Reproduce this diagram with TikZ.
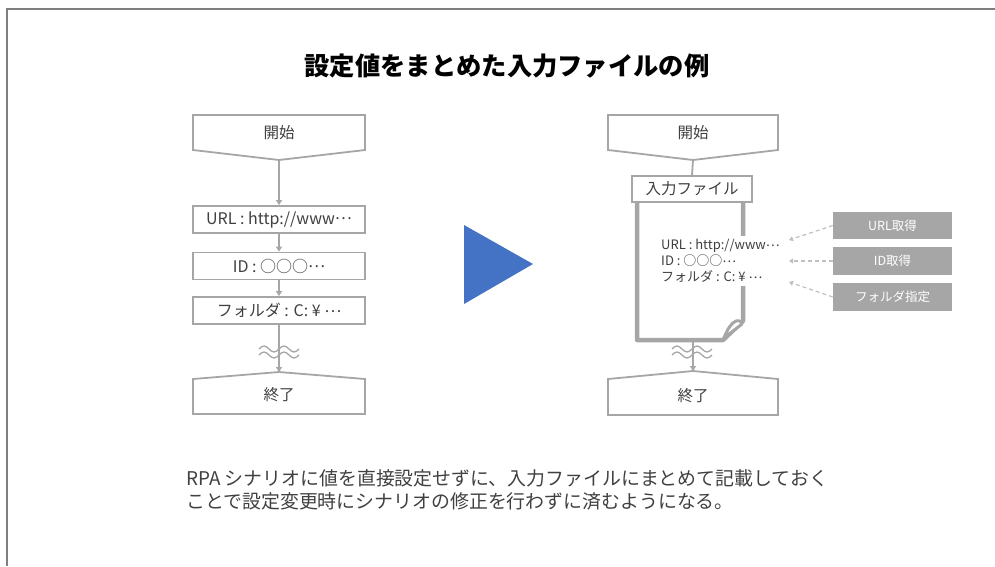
\documentclass[tikz,border=0pt]{standalone}
\usepackage{fontspec}
\setmainfont{Noto Sans CJK JP}
\usetikzlibrary{arrows.meta}
\definecolor{boxgray}{HTML}{A6A6A6}
\definecolor{txtgray}{HTML}{404040}
\definecolor{dashgray}{HTML}{C0C0C0}
\definecolor{triblue}{HTML}{4472C4}
\definecolor{framegray}{HTML}{7F7F7F}
\newcommand{\mdts}{\raisebox{0.28em}{…}}
\tikzset{
  flowbox/.style={draw=boxgray, line width=1.8pt, fill=white, minimum width=172pt, minimum height=27pt, inner sep=0pt, text=txtgray, font=\fontsize{16}{18}\selectfont},
  shapeline/.style={draw=boxgray, line width=1.8pt, fill=white},
  shapetext/.style={text=txtgray, font=\fontsize{15.5}{18}\selectfont, inner sep=0pt},
  conn/.style={draw=boxgray, line width=1.8pt, -{Triangle[width=6pt,length=5pt]}},
  plainconn/.style={draw=boxgray, line width=1.8pt},
  graybox/.style={fill=boxgray, minimum width=119pt, minimum height=27pt, inner sep=0pt, text=white, font=\fontsize{12.5}{15}\selectfont},
  dasharrow/.style={draw=dashgray, line width=1.2pt, dash pattern=on 4pt off 3pt, -{Triangle[width=5pt,length=4pt]}},
  wavy/.style={draw=boxgray, line width=1.3pt},
  docline/.style={draw=boxgray, line width=4.5pt, line join=round},
}
\begin{document}
\begin{tikzpicture}[x=1pt,y=-1pt]
\useasboundingbox (0,0) rectangle (995,566);
% frame
\draw[framegray, line width=2pt] (995,9) -- (7,9) -- (7,566);
% title
\node[font=\fontsize{25.3}{30}\selectfont\bfseries] (title) at (507,66) {設定値をまとめた入力ファイルの例};

% ---------- left flow ----------
\draw[shapeline] (193,115) -- (365,115) -- (365,150) -- (279,160) -- (193,150) -- cycle;
\node[shapetext] (s1) at (279,133) {開始};
\coordinate (s1b) at (279,160);
\node[flowbox] (url) at (279,219.5) {URL : http://www\mdts};
\node[flowbox] (id) at (279,266) {ID : ○○○\mdts};
\node[flowbox] (fold) at (279,310.5) {フォルダ : C: ¥ \mdts};
\draw[conn] (s1b) -- (url.north);
\draw[conn] (url.south) -- (id.north);
\draw[conn] (id.south) -- (fold.north);
\coordinate (e1t) at (279,372);
\draw[conn] (fold.south) -- (e1t);
\draw[wavy] (259,349) sin (264,346) cos (269,349) sin (274,352) cos (279,349) sin (284,346) cos (289,349) sin (294,352) cos (299,349);
\draw[wavy] (259,355) sin (264,352) cos (269,355) sin (274,358) cos (279,355) sin (284,352) cos (289,355) sin (294,358) cos (299,355);
\draw[shapeline] (193,379) -- (279,372) -- (365,379) -- (365,414) -- (193,414) -- cycle;
\node[shapetext] (e1) at (279,395) {終了};

% ---------- triangle ----------
\fill[triblue] (464,225) -- (533,264) -- (464,304) -- cycle;

% ---------- right flow ----------
\draw[shapeline] (608,115) -- (778,115) -- (778,150) -- (693,160) -- (608,150) -- cycle;
\node[shapetext] (s2) at (693,133) {開始};
\coordinate (s2b) at (693,160);
\node[flowbox, minimum width=120pt, minimum height=26pt, font=\fontsize{15.5}{18}\selectfont] (infile) at (692,189) {入力ファイル};
\draw[plainconn] (s2b) -- (infile.north);
% document
\draw[docline] (743,203) -- (743,321) -- (723,340) -- (637,340) -- (637,203);
\draw[draw=boxgray, line width=3pt, fill=white, line join=round] (724,338) .. controls (727,330) and (731,323) .. (736,321) .. controls (740,320) and (742,322) .. (742,324) -- cycle;
\node[anchor=west, align=left, fill=white, inner xsep=2pt, inner ysep=3pt, text=txtgray, font=\fontsize{13}{16}\selectfont] (doctext) at (659,261) {URL : http://www\mdts\\ID : ○○○\mdts\\フォルダ : C: ¥ \mdts};
\coordinate (docb) at (693,342);
\coordinate (e2t) at (693,371);
\draw[conn] (docb) -- (e2t);
\draw[wavy] (672,349) sin (677,346) cos (682,349) sin (687,352) cos (692,349) sin (697,346) cos (702,349) sin (707,352) cos (712,349);
\draw[wavy] (672,355) sin (677,352) cos (682,355) sin (687,358) cos (692,355) sin (697,352) cos (702,355) sin (707,358) cos (712,355);
\draw[shapeline] (608,379) -- (693,371) -- (778,379) -- (778,415) -- (608,415) -- cycle;
\node[shapetext] (e2) at (693,396) {終了};

% gray boxes
\node[graybox] (g1) at (892.5,225.5) {URL取得};
\node[graybox, minimum height=28pt] (g2) at (892.5,261) {ID取得};
\node[graybox, minimum height=28pt] (g3) at (892.5,297) {フォルダ指定};
\coordinate (t1) at (789,240);
\coordinate (t2) at (789,261);
\coordinate (t3) at (789,282);
\draw[dasharrow] (g1.west) -- (t1);
\draw[dasharrow] (g2.west) -- (t2);
\draw[dasharrow] (g3.west) -- (t3);

% note
\node[anchor=north west, align=left, inner sep=0pt, text=txtgray, font=\fontsize{18.9}{23}\selectfont] (note) at (186,469) {RPA シナリオに値を直接設定せずに、入力ファイルにまとめて記載しておく\\ことで設定変更時にシナリオの修正を行わずに済むようになる。};
\end{tikzpicture}
\end{document}
